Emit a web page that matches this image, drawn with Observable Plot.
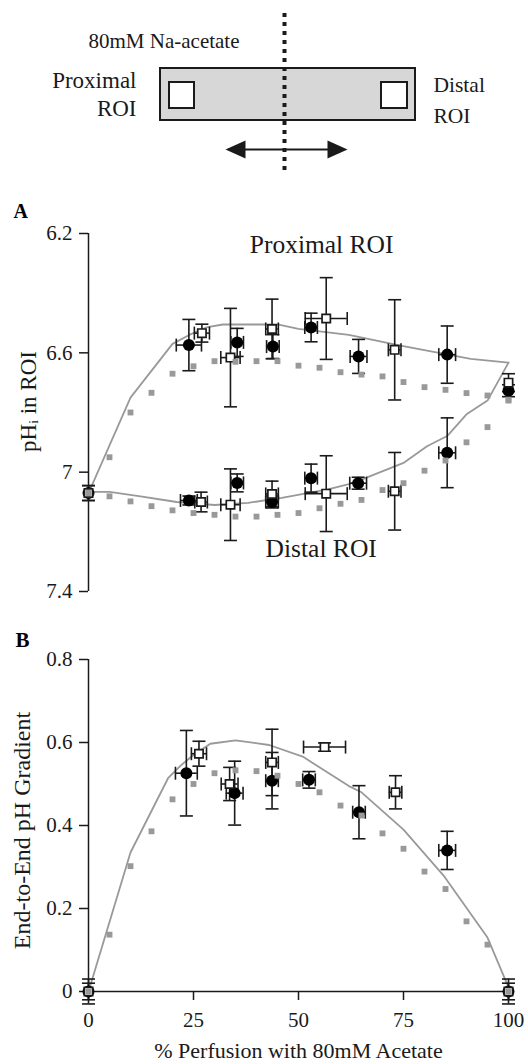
<!DOCTYPE html>
<html><head><meta charset="utf-8">
<script src="https://cdn.jsdelivr.net/npm/d3@7"></script>
<script src="https://cdn.jsdelivr.net/npm/@observablehq/plot@0.6"></script>
<style>
html,body{margin:0;padding:0;background:#fff;}
#chart{width:528px;height:1064px;position:relative;overflow:hidden;background:#fff;}
#chart svg{display:block;}
#chart svg, #chart svg text{font-family:"Liberation Serif","DejaVu Serif",serif !important;}
</style></head><body><div id="chart"></div>
<script>
// ---------------- data ----------------
const perfusionPct = [0,5,10,15,20,25,30,35,40,45,50,55,60,65,70,75,80,85,90,95,100];
// model (gray squares)
const proximalModelPH = [7.07,6.95,6.80,6.734,6.67,6.645,6.628,6.63,6.628,6.628,6.643,6.65,6.665,6.673,6.679,6.698,6.715,6.724,6.735,6.743,6.757];
const distalModelPH   = [7.07,7.081,7.098,7.114,7.128,7.137,7.143,7.149,7.149,7.143,7.137,7.121,7.106,7.093,7.06,7.037,6.995,6.961,6.90,6.849,6.76];
const gradientModel   = [0,0.137,0.302,0.386,0.463,0.50,0.526,0.533,0.531,0.52,0.50,0.48,0.448,0.424,0.381,0.344,0.289,0.247,0.169,0.113,0];
// model (gray lines)
const proximalCurvePct = [0,10,20,24,28,32,45,50,62,74,91,100];
const proximalCurvePH  = [7.07,6.75,6.57,6.54,6.515,6.505,6.505,6.52,6.54,6.575,6.62,6.633];
const distalCurvePct   = [0,5,12,21,30,38,46,57,62,65,75,80.6,85.4,90,95,100];
const distalCurvePH    = [7.066,7.066,7.08,7.10,7.11,7.103,7.086,7.058,7.04,7.025,6.969,6.913,6.879,6.806,6.76,6.633];
const gradientCurvePct = [0,10,19,22,25,29,35,43,51,62,65,75,84.5,95,100];
const gradientCurveVal = [0,0.335,0.515,0.545,0.57,0.597,0.605,0.594,0.566,0.495,0.48,0.39,0.28,0.13,0.01];
// measurements: [percent, value, percentError, valueError]
const proximalCircles = [[0,7.07,0,0.025],[23.9,6.574,3,0.086],[35.4,6.565,1.5,0.047],[43.9,6.579,1.5,0.04],[53.0,6.515,1.5,0.048],[64.3,6.612,2,0.057],[85.4,6.606,2,0.096],[100,6.727,0,0.02]];
const proximalSquares = [[0,7.07,0,0.025],[27.0,6.534,1.8,0.03],[33.8,6.616,2.3,0.165],[43.7,6.52,1.5,0.10],[56.6,6.485,5,0.137],[72.9,6.59,1.5,0.168],[100,6.70,0,0.03]];
const distalCircles   = [[23.9,7.095,2,0.015],[35.4,7.036,1.5,0.03],[43.7,7.10,1.5,0.02],[53.0,7.02,1.5,0.047],[64.2,7.037,2,0.02],[85.4,6.935,2,0.117]];
const distalSquares   = [[26.8,7.10,1.5,0.033],[33.8,7.109,2.3,0.12],[43.7,7.073,1.5,0.043],[56.6,7.072,5,0.127],[72.9,7.064,1.5,0.13]];
const gradientCircles = [[0,0,0,0.03],[23.3,0.526,2.6,0.103],[34.8,0.478,2,0.077],[43.7,0.508,1.5,0.068],[52.5,0.51,1.5,0.02],[64.4,0.432,1.5,0.064],[85.4,0.34,2,0.046],[100,0,0,0.03]];
const gradientSquares = [[0,0,0,0.02],[26.3,0.573,1.8,0.03],[33.6,0.50,2,0.04],[43.7,0.552,1.5,0.08],[56.2,0.589,5,0.01],[73.1,0.48,1.5,0.04],[100,0,0,0.02]];
// ticks and labels
const phTicks = [6.2,6.6,7,7.4];
const gradientTicks = [0,0.2,0.4,0.6,0.8];
const pctTicks = [0,25,50,75,100];
const roiLabels = [{pct:55.5, ph:6.237, text:"Proximal ROI"},{pct:55.4, ph:7.256, text:"Distal ROI"}];

// ---------------- helpers ----------------
const FONT = "Liberation Serif, DejaVu Serif, serif";
const INK = "#1a1a1a";
const GRAY = "#999999";
const hCap = {draw(ctx, size){const r=Math.sqrt(size/Math.PI); ctx.moveTo(-r,0); ctx.lineTo(r,0);}};
const vCap = {draw(ctx, size){const r=Math.sqrt(size/Math.PI); ctx.moveTo(0,-r); ctx.lineTo(0,r);}};
const headLeft = {draw(ctx, size){const r=Math.sqrt(size/Math.PI); ctx.moveTo(-r,0); ctx.lineTo(r,-0.9*r); ctx.lineTo(r,0.9*r); ctx.closePath();}};
const headRight = {draw(ctx, size){const r=Math.sqrt(size/Math.PI); ctx.moveTo(r,0); ctx.lineTo(-r,-0.9*r); ctx.lineTo(-r,0.9*r); ctx.closePath();}};

function errorBars(rows){
  const hx = rows.filter(d => d[2] > 0);
  const common = {stroke: INK, strokeWidth: 1.6, fill: "none"};
  return [
    Plot.ruleX(rows, {x: d=>d[0], y1: d=>d[1]-d[3], y2: d=>d[1]+d[3], stroke: INK, strokeWidth: 1.6}),
    Plot.dot(rows, {x: d=>d[0], y: d=>d[1]-d[3], symbol: hCap, r: 6.5, ...common}),
    Plot.dot(rows, {x: d=>d[0], y: d=>d[1]+d[3], symbol: hCap, r: 6.5, ...common}),
    Plot.ruleY(hx, {y: d=>d[1], x1: d=>d[0]-d[2], x2: d=>d[0]+d[2], stroke: INK, strokeWidth: 1.6}),
    Plot.dot(hx, {x: d=>d[0]-d[2], y: d=>d[1], symbol: vCap, r: 6.5, ...common}),
    Plot.dot(hx, {x: d=>d[0]+d[2], y: d=>d[1], symbol: vCap, r: 6.5, ...common})
  ];
}
function circles(rows){ return Plot.dot(rows, {x: d=>d[0], y: d=>d[1], r: 6, fill: "#000", stroke: "none"}); }
function squares(rows){ return Plot.dot(rows, {x: d=>d[0], y: d=>d[1], symbol: "square", r: 4.7, fill: "#fff", stroke: INK, strokeWidth: 1.7}); }
function modelSquares(vals){ return Plot.dot(perfusionPct.map((p,i)=>({p, v: vals[i]})), {x:"p", y:"v", symbol:"square", r: 3.3, fill: GRAY, stroke: "none"}); }
function modelLine(xs, ys){ return Plot.line(xs.map((p,i)=>({p, v: ys[i]})), {x:"p", y:"v", stroke: GRAY, strokeWidth: 1.8}); }
const txt = (extra) => ({fontFamily: FONT, fill: INK, ...extra});

const chart = document.getElementById("chart");

// ---------------- schematic ----------------
const diagramLabels = ["80mM Na-acetate","Proximal","ROI","Distal","ROI"];
const diagram = Plot.plot({
  width: 528, height: 190, margin: 0,
  x: {domain: [0,528], range: [0,528], axis: null},
  y: {domain: [0,190], range: [0,190], axis: null},
  style: {fontFamily: FONT, fontSize: "21px", color: INK, background: "#fff", overflow: "visible"},
  marks: [
    Plot.rect([0], {x1: 160, x2: 415, y1: 68, y2: 120, fill: "#d7d7d7", stroke: INK, strokeWidth: 2}),
    Plot.rect([0,1], {x1: d => d ? 381 : 169, x2: d => d ? 407 : 194, y1: 82, y2: 108, fill: "#fff", stroke: INK, strokeWidth: 2}),
    Plot.ruleX([284], {y1: 13, y2: 170, stroke: INK, strokeWidth: 4, strokeDasharray: "4,5"}),
    Plot.ruleY([149], {x1: 240, x2: 332, stroke: INK, strokeWidth: 2}),
    Plot.dot([0], {x: 235, y: 149, symbol: headLeft, r: 10, fill: INK, stroke: "none"}),
    Plot.dot([0], {x: 337, y: 149, symbol: headRight, r: 10, fill: INK, stroke: "none"}),
    Plot.text([diagramLabels[0]], txt({x: 88, y: 41, text: d=>d, textAnchor: "start", fontSize: 21})),
    Plot.text([diagramLabels[1]], txt({x: 136, y: 80, text: d=>d, textAnchor: "end", fontSize: 23})),
    Plot.text([diagramLabels[2]], txt({x: 136, y: 108, text: d=>d, textAnchor: "end", fontSize: 23})),
    Plot.text([diagramLabels[3]], txt({x: 433, y: 85, text: d=>d, textAnchor: "start", fontSize: 21.5})),
    Plot.text([diagramLabels[4]], txt({x: 433, y: 116, text: d=>d, textAnchor: "start", fontSize: 21.5}))
  ]
});
chart.appendChild(diagram);

// ---------------- panel A ----------------
const panelA = Plot.plot({
  width: 528, height: 420,
  marginTop: 43, marginBottom: 19, marginLeft: 88, marginRight: 20,
  x: {domain: [0,100], axis: null},
  y: {domain: [6.2,7.4], reverse: true, axis: null},
  style: {fontFamily: FONT, fontSize: "21px", color: INK, background: "#fff", overflow: "visible"},
  marks: [
    Plot.ruleX([0], {y1: 6.2, y2: 7.4, stroke: INK, strokeWidth: 1.5}),
    Plot.axisY({ticks: phTicks, label: null, tickSize: 9, tickPadding: 7, tickFormat: d => String(d), stroke: INK, strokeWidth: 1.5, fill: INK, fontSize: 21, fontFamily: FONT}),
    modelLine(proximalCurvePct, proximalCurvePH),
    modelLine(distalCurvePct, distalCurvePH),
    ...errorBars(proximalCircles), ...errorBars(proximalSquares),
    ...errorBars(distalCircles), ...errorBars(distalSquares),
    circles(proximalCircles), circles(distalCircles),
    squares(proximalSquares), squares(distalSquares),
    modelSquares(proximalModelPH), modelSquares(distalModelPH),
    Plot.text(roiLabels, txt({x: "pct", y: "ph", text: "text", fontSize: 25.5})),
    Plot.text(["A"], txt({frameAnchor: "top-left", dx: -75, dy: -22, text: d=>d, textAnchor: "start", lineAnchor: "middle", fontWeight: "bold", fontSize: 20, fill: "#000"})),
    Plot.text(["pHᵢ in ROI"], txt({frameAnchor: "left", dx: -60, dy: -11, rotate: -90, text: d=>d, textAnchor: "middle", lineAnchor: "middle", fontSize: 23}))
  ]
});
chart.appendChild(panelA);

// ---------------- panel B ----------------
const panelB = Plot.plot({
  width: 528, height: 454,
  marginTop: 49, marginBottom: 73, marginLeft: 88, marginRight: 20,
  x: {domain: [0,100], axis: null},
  y: {domain: [0,0.8], axis: null},
  style: {fontFamily: FONT, fontSize: "21px", color: INK, background: "#fff", overflow: "visible"},
  marks: [
    Plot.ruleX([0], {y1: 0, y2: 0.8, stroke: INK, strokeWidth: 1.5}),
    Plot.ruleY([0], {x1: 0, x2: 100, stroke: INK, strokeWidth: 1.5}),
    Plot.axisY({ticks: gradientTicks, label: null, tickSize: 9, tickPadding: 7, tickFormat: d => String(d), stroke: INK, strokeWidth: 1.5, fill: INK, fontSize: 21, fontFamily: FONT}),
    Plot.axisX({ticks: pctTicks, label: null, tickSize: 9, tickPadding: 12, tickFormat: d => String(d), stroke: INK, strokeWidth: 1.5, fill: INK, fontSize: 21, fontFamily: FONT}),
    modelLine(gradientCurvePct, gradientCurveVal),
    ...errorBars(gradientCircles), ...errorBars(gradientSquares),
    circles(gradientCircles), squares(gradientSquares),
    modelSquares(gradientModel),
    Plot.text(["B"], txt({frameAnchor: "top-left", dx: -73, dy: -19, text: d=>d, textAnchor: "start", lineAnchor: "middle", fontWeight: "bold", fontSize: 21, fill: "#000"})),
    Plot.text(["End-to-End pH Gradient"], txt({frameAnchor: "left", dx: -66, dy: 5, rotate: -90, text: d=>d, textAnchor: "middle", lineAnchor: "middle", fontSize: 24})),
    Plot.text(["% Perfusion with 80mM Acetate"], txt({frameAnchor: "bottom", dy: 59, text: d=>d, lineAnchor: "middle", fontSize: 22}))
  ]
});
chart.appendChild(panelB);
</script></body></html>
